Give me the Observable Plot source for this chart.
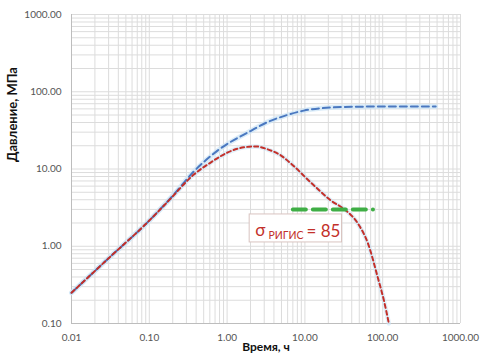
<!DOCTYPE html>
<html>
<head>
<meta charset="utf-8">
<script src="https://cdn.jsdelivr.net/npm/d3@7"></script>
<script src="https://cdn.jsdelivr.net/npm/@observablehq/plot@0.6"></script>
<style>
  html, body { margin: 0; padding: 0; background: #fff; }
  #chart { width: 482px; height: 361px; }
</style>
</head>
<body>
<div id="chart"></div>
<script>
// ---- data ----
const blueT = [0.01, 0.03, 0.1, 0.2, 0.37, 0.76, 2.0, 3.6, 4.9, 9.7, 21.6, 50, 95, 480];
const blueP = [0.25, 0.70, 2.15, 4.5, 9.2, 17.4, 31, 42, 47, 57, 62.5, 64, 64.5, 64.5];

const redT = [0.01, 0.03, 0.1, 0.18, 0.37, 0.62, 1.02, 1.64, 2.33, 3.3, 4.9, 6.6, 11.9, 21.5, 33.6, 48, 64.6, 86.7, 103.5, 120];
const redP = [0.25, 0.70, 2.15, 3.95, 8.4, 12.2, 16.4, 19.1, 19.6, 18.0, 15.0, 11.8, 6.7, 3.92, 2.91, 1.97, 1.09, 0.39, 0.2, 0.1];

const greenT = [7, 75];
const greenP = [3, 3];

const xTicks = [0.01, 0.1, 1, 10, 100, 1000];
const yTicks = [0.1, 1, 10, 100, 1000];

const xLabel = "Время, ч";
const yLabel = "Давление, МПа";

const annotSymbol = "σ";
const annotSub = "РИГИС";
const annotValue = "= 85";
const annotBox = {x1: 1.95, x2: 30, y1: 1.12, y2: 2.58};
const annotPos = {x: 2.3, y: 1.6};

// ---- derived tables ----
const blue = blueT.map((t, i) => ({t, p: blueP[i]}));
const red = redT.map((t, i) => ({t, p: redP[i]}));
const green = greenT.map((t, i) => ({t, p: greenP[i]}));
const minor = (lo, hi) => {
  const out = [];
  for (let e = lo; e < hi; e++) for (let k = 1; k <= 9; k++) out.push(k * Math.pow(10, e));
  out.push(Math.pow(10, hi));
  return out;
};
const xGrid = minor(-2, 3);
const yGrid = minor(-1, 3);
const fmt = d3.format(".2f");

const blueColor = "#4a78c0";
const redColor = "#c3302a";
const greenColor = "#3fae45";
const glow = "#cde6f6";

const chart = Plot.plot({
  width: 482,
  height: 361,
  marginLeft: 71,
  marginRight: 22,
  marginTop: 14,
  marginBottom: 38,
  style: {fontFamily: "Lato, 'Open Sans', sans-serif", fontSize: "10px", background: "#fff"},
  x: {type: "log", domain: [0.01, 1000]},
  y: {type: "log", domain: [0.1, 1000]},
  marks: [
    Plot.ruleX(xGrid, {stroke: "#dcdcdc", strokeWidth: 1}),
    Plot.ruleY(yGrid, {stroke: "#dcdcdc", strokeWidth: 1}),
    Plot.ruleX([0.01], {stroke: "#bdbdbd"}),
    Plot.ruleY([0.1], {stroke: "#bdbdbd"}),
    Plot.axisX({ticks: xTicks, tickFormat: fmt, tickSize: 0, tickPadding: 10, label: null, fill: "#555"}),
    Plot.axisY({ticks: yTicks, tickFormat: fmt, tickSize: 0, tickPadding: 10, label: null, fill: "#555"}),
    Plot.rect([annotBox], {x1: "x1", x2: "x2", y1: "y1", y2: "y2", fill: "#fff", stroke: "#d9c4c0", strokeWidth: 1}),
    Plot.line(blue, {x: "t", y: "p", stroke: glow, strokeWidth: 5, strokeOpacity: 0.7, curve: "monotone-x"}),
    Plot.line(red, {x: "t", y: "p", stroke: glow, strokeWidth: 4.5, strokeOpacity: 0.6, curve: "monotone-x"}),
    Plot.line(blue, {x: "t", y: "p", stroke: blueColor, strokeWidth: 2, strokeDasharray: "7,4", curve: "monotone-x"}),
    Plot.line(red, {x: "t", y: "p", stroke: redColor, strokeWidth: 2, strokeDasharray: "4,3", curve: "monotone-x"}),
    Plot.line(green, {x: "t", y: "p", stroke: greenColor, strokeWidth: 4, strokeDasharray: "13,7"}),
    Plot.text([annotPos], {x: "x", y: "y", text: () => annotSymbol, textAnchor: "start", fill: redColor, fontSize: 17}),
    Plot.text([xLabel], {frameAnchor: "bottom", text: d => d, dy: 27, fontWeight: "bold", fontSize: 12, fill: "#111"}),
    Plot.text([yLabel], {frameAnchor: "left", text: d => d, rotate: -90, dx: -59, dy: -7, fontWeight: "bold", fontSize: 13, fill: "#111"})
  ]
});

// rich annotation text with subscript
d3.select(chart).selectAll("text")
  .filter(function() { return this.textContent === annotSymbol; })
  .each(function() {
    const t = d3.select(this);
    t.text(null);
    t.append("tspan").attr("font-size", 17).text(annotSymbol);
    t.append("tspan").attr("font-size", 10.5).attr("dx", 3).attr("dy", 3).text(annotSub);
    t.append("tspan").attr("font-size", 17).attr("dx", 3).attr("dy", -2).text(annotValue);
  });

document.getElementById("chart").appendChild(chart);
</script>
</body>
</html>
